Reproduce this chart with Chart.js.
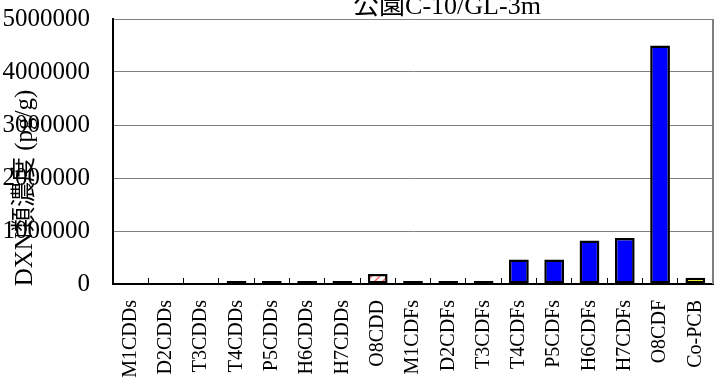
<!DOCTYPE html>
<html>
<head>
<meta charset="utf-8">
<script src="https://cdn.jsdelivr.net/npm/chart.js@4/dist/chart.umd.min.js"></script>
<style>
  body { margin: 0; background: #fff; }
  #wrap { width: 715px; height: 382px; }
</style>
</head>
<body>
<div id="wrap"><canvas id="dxnChart" width="715" height="382"></canvas></div>
<script>
// data
const chartTitle = '公園C-10/GL-3m';
const yTitle = 'DXN類濃度 (pg/g)';
const categories = ['M1CDDs', 'D2CDDs', 'T3CDDs', 'T4CDDs', 'P5CDDs', 'H6CDDs', 'H7CDDs', 'O8CDD',
  'M1CDFs', 'D2CDFs', 'T3CDFs', 'T4CDFs', 'P5CDFs', 'H6CDFs', 'H7CDFs', 'O8CDF', 'Co-PCB'];
const concentrations = [null, null, null, 5000, 8000, 10000, 40000, 190000,
  6000, 8000, 10000, 460000, 460000, 820000, 870000, 4500000, 120000];
const yTicks = [0, 1000000, 2000000, 3000000, 4000000, 5000000];

const serif = "'Liberation Serif', 'Noto Sans CJK JP', serif";

// white bar with red diagonal hatch for O8CDD
function hatch() {
  const c = document.createElement('canvas');
  c.width = 8; c.height = 8;
  const g = c.getContext('2d');
  g.fillStyle = '#fff';
  g.fillRect(0, 0, 8, 8);
  g.strokeStyle = '#ff6666';
  g.lineWidth = 1.5;
  g.beginPath();
  g.moveTo(0, 8); g.lineTo(8, 0);
  g.moveTo(-2, 2); g.lineTo(2, -2);
  g.moveTo(6, 10); g.lineTo(10, 6);
  g.stroke();
  return g.createPattern(c, 'repeat');
}

const barColors = categories.map((name) => {
  if (name === 'O8CDD') return hatch();
  if (name === 'Co-PCB') return '#ffff00';
  return '#0000ff';
});

// title, y title and right border of the plot
const extras = {
  id: 'extras',
  beforeDatasetsDraw(chart) {
    const { ctx, chartArea } = chart;
    ctx.save();
    ctx.strokeStyle = '#808080';
    ctx.lineWidth = 2;
    ctx.beginPath();
    ctx.moveTo(chartArea.right, chartArea.top);
    ctx.lineTo(chartArea.right, chartArea.bottom);
    ctx.stroke();
    ctx.restore();
  },
  afterDraw(chart) {
    const { ctx } = chart;
    ctx.save();
    ctx.fillStyle = '#000';
    ctx.font = '26px ' + serif;
    ctx.textAlign = 'center';
    ctx.textBaseline = 'alphabetic';
    ctx.fillText(chartTitle, 447, 14);

    ctx.translate(25, 188);
    ctx.rotate(-Math.PI / 2);
    ctx.font = '25px ' + serif;
    ctx.textBaseline = 'middle';
    ctx.fillText(yTitle, 0, 0);
    ctx.restore();
  }
};

new Chart(document.getElementById('dxnChart'), {
  type: 'bar',
  data: {
    labels: categories,
    datasets: [{
      data: concentrations,
      backgroundColor: barColors,
      borderColor: '#000',
      borderWidth: 2.5,
      borderSkipped: false,
      minBarLength: 3,
      categoryPercentage: 1,
      barPercentage: 0.56,
    }],
  },
  options: {
    responsive: false,
    animation: false,
    layout: { padding: { top: 19, right: 2, left: 0, bottom: 0 } },
    plugins: {
      legend: { display: false },
      tooltip: { enabled: false },
    },
    scales: {
      x: {
        afterFit: (scale) => {
          scale.height = 98;
          scale.paddingLeft = 0;
          scale.paddingRight = 0;
        },
        grid: { drawOnChartArea: false, drawTicks: true, tickLength: -6, tickColor: '#000', offset: true },
        border: { color: '#000', width: 2 },
        ticks: {
          autoSkip: false,
          maxRotation: 90,
          minRotation: 90,
          padding: 22,
          color: '#000',
          font: { family: serif, size: 20 },
        },
      },
      y: {
        min: 0,
        max: 5000000,
        afterFit: (scale) => {
          scale.width = 113;
          scale.paddingTop = 0;
          scale.paddingBottom = 0;
        },
        afterBuildTicks: (scale) => { scale.ticks = yTicks.map((v) => ({ value: v })); },
        grid: { color: '#808080', lineWidth: 1, drawTicks: false },
        border: { color: '#000', width: 2 },
        ticks: {
          padding: 23,
          color: '#000',
          font: { family: serif, size: 25 },
          callback: (v) => String(v),
        },
      },
    },
  },
  plugins: [extras],
});
</script>
</body>
</html>
